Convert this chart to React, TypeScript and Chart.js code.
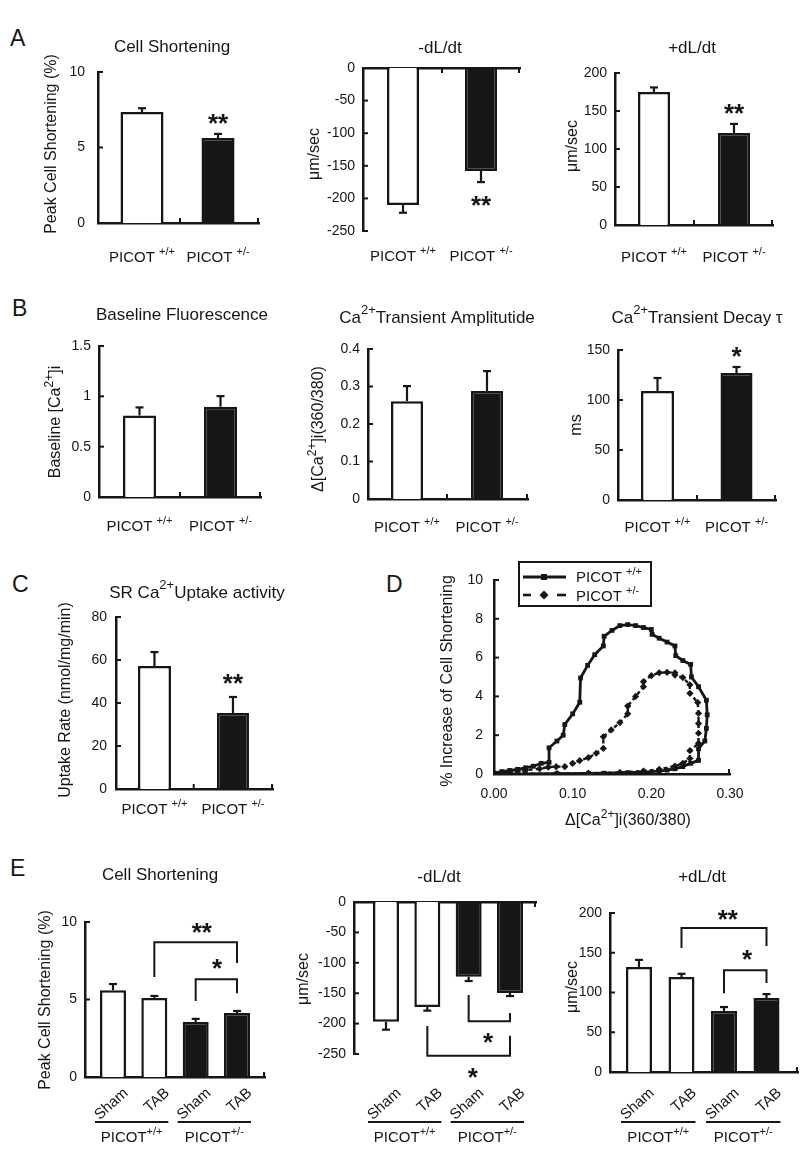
import React, { useEffect, useRef } from 'react';
import { Chart, registerables } from 'chart.js';

Chart.register(...registerables);

const FONT = '"Liberation Sans", Arial, Helvetica, sans-serif';
const INK = '#161616';
const WHITE = '#ffffff';
const DEG = Math.PI / 180;

Chart.defaults.font.family = FONT;
Chart.defaults.color = INK;

// ---------- Panel A ----------
const genotypeLabels = ['PICOT ^{+/+}', 'PICOT ^{+/-}'];
const aShortening = [7.35, 5.63];
const aShorteningErr = [0.25, 0.27];
const aRelaxation = [-210, -158];
const aRelaxationErr = [12, 17];
const aContraction = [175, 121];
const aContractionErr = [6, 12];

// ---------- Panel B ----------
const bBaseline = [0.81, 0.897];
const bBaselineErr = [0.08, 0.105];
const bAmplitude = [0.261, 0.288];
const bAmplitudeErr = [0.04, 0.053];
const bDecay = [109, 127];
const bDecayErr = [13, 6];

// ---------- Panel C ----------
const cUptake = [57.2, 35.3];
const cUptakeErr = [6.5, 7.5];

// ---------- Panel D ----------
const dWtX = [0.0, 0.01, 0.02, 0.03, 0.04, 0.05, 0.06, 0.07, 0.07, 0.08, 0.088, 0.09, 0.1, 0.109, 0.11, 0.119, 0.128, 0.139, 0.14, 0.15, 0.16, 0.17, 0.18, 0.19, 0.2, 0.201, 0.21, 0.22, 0.23, 0.231, 0.24, 0.25, 0.251, 0.26, 0.27, 0.271, 0.27, 0.268, 0.26, 0.26, 0.25, 0.24, 0.23, 0.22, 0.21, 0.19, 0.17, 0.14, 0.12, 0.08, 0.04, 0.0];
const dWtY = [0.05, 0.12, 0.18, 0.24, 0.32, 0.4, 0.55, 0.6, 1.35, 1.7, 2.0, 2.55, 3.1, 3.7, 4.95, 5.6, 6.15, 6.6, 7.1, 7.4, 7.65, 7.7, 7.65, 7.55, 7.45, 7.2, 7.0, 6.8, 6.6, 6.1, 5.85, 5.65, 5.0, 4.5, 3.8, 3.05, 2.35, 1.7, 1.3, 0.7, 0.55, 0.38, 0.27, 0.2, 0.15, 0.1, 0.07, 0.04, 0.03, 0.02, 0.01, 0.0];
const dHetX = [0.0, 0.01, 0.02, 0.03, 0.04, 0.058, 0.069, 0.079, 0.09, 0.1, 0.109, 0.12, 0.13, 0.139, 0.139, 0.149, 0.16, 0.17, 0.17, 0.18, 0.19, 0.19, 0.2, 0.21, 0.22, 0.23, 0.23, 0.24, 0.249, 0.249, 0.259, 0.26, 0.26, 0.26, 0.26, 0.249, 0.249, 0.24, 0.23, 0.21, 0.19, 0.16, 0.12, 0.08, 0.04, 0.0];
const dHetY = [0.0, 0.07, 0.12, 0.16, 0.2, 0.27, 0.35, 0.38, 0.38, 0.55, 0.69, 0.84, 1.07, 1.32, 1.92, 2.27, 2.65, 3.1, 3.5, 4.0, 4.5, 4.76, 5.07, 5.22, 5.24, 5.22, 5.1, 4.97, 4.6, 4.16, 3.68, 3.13, 2.6, 2.1, 1.58, 1.2, 0.8, 0.55, 0.41, 0.24, 0.15, 0.08, 0.04, 0.02, 0.01, 0.0];
const dSeriesLabels = ['PICOT ^{+/+}', 'PICOT ^{+/-}'];

// ---------- Panel E ----------
const eTreatments = ['Sham', 'TAB', 'Sham', 'TAB'];
const eGenotypes = ['PICOT^{+/+}', 'PICOT^{+/-}'];
const eShortening = [5.6, 5.1, 3.55, 4.13];
const eShorteningErr = [0.4, 0.13, 0.2, 0.13];
const eRelaxation = [-197, -172.7, -123, -149.7];
const eRelaxationErr = [13, 6, 7, 5];
const eContraction = [132, 119.5, 76.7, 93];
const eContractionErr = [9, 4, 5, 5];

type Star = { x: number; y: number; text: string };
type Bracket = { x1: number; x2: number; y1: number; top: number; y2: number };
type BarSpec = {
  area: [number, number, number, number];
  xRange: [number, number];
  yRange: [number, number, number];
  values: number[];
  errors: number[];
  fills: string[];
  widths: number[];
  labels?: string[];
  labelY?: number;
  rotLabels?: string[];
  rotY?: number;
  groups?: string[];
  title: string;
  titlePos: [number, number];
  yTitle: string;
  yTitlePos: [number, number];
  tickPad: number;
  xTop?: boolean;
  midTicks?: boolean;
  stars?: Star[];
  brackets?: Bracket[];
};

function segs(s: string) {
  const out: { t: string; sup: boolean }[] = [];
  const re = /\^\{([^}]*)\}/g;
  let last = 0;
  let m: RegExpExecArray | null;
  while ((m = re.exec(s))) {
    if (m.index > last) out.push({ t: s.slice(last, m.index), sup: false });
    out.push({ t: m[1], sup: true });
    last = m.index + m[0].length;
  }
  if (last < s.length) out.push({ t: s.slice(last), sup: false });
  return out;
}

function drawRich(ctx: CanvasRenderingContext2D, s: string, x: number, y: number, size: number, align = 'center', rot = 0) {
  const parts = segs(s);
  const supSize = Math.round(size * 0.75);
  ctx.save();
  ctx.translate(x, y);
  if (rot) ctx.rotate(rot);
  ctx.fillStyle = INK;
  ctx.textBaseline = 'middle';
  ctx.textAlign = 'left';
  let total = 0;
  const widths = parts.map((p) => {
    ctx.font = `${p.sup ? supSize : size}px ${FONT}`;
    const w = ctx.measureText(p.t).width;
    total += w;
    return w;
  });
  let cx = align === 'center' ? -total / 2 : align === 'right' ? -total : 0;
  parts.forEach((p, i) => {
    ctx.font = `${p.sup ? supSize : size}px ${FONT}`;
    ctx.fillText(p.t, cx, p.sup ? -size * 0.42 : 0);
    cx += widths[i];
  });
  ctx.restore();
}

function seg(ctx: CanvasRenderingContext2D, x1: number, y1: number, x2: number, y2: number) {
  ctx.beginPath();
  ctx.moveTo(x1, y1);
  ctx.lineTo(x2, y2);
  ctx.stroke();
}

function drawStar(ctx: CanvasRenderingContext2D, text: string, x: number, y: number) {
  const fs = 26;
  ctx.save();
  ctx.font = `bold ${fs}px ${FONT}`;
  ctx.fillStyle = INK;
  ctx.textAlign = 'center';
  ctx.textBaseline = 'alphabetic';
  ctx.fillText(text, x, y + fs * 0.58);
  ctx.restore();
}

const fmt = (v: number) => String(Math.round(v * 1000) / 1000);

function drawBarAnnotations(chart: any, s: BarSpec) {
  const ctx: CanvasRenderingContext2D = chart.ctx;
  const xs = chart.scales.x;
  const ys = chart.scales.y;
  const { left, right, top, bottom } = chart.chartArea;
  const px = (v: number) => xs.getPixelForValue(v);
  const py = (v: number) => ys.getPixelForValue(v);
  ctx.save();
  ctx.strokeStyle = INK;
  ctx.lineCap = 'butt';
  // error bars
  ctx.lineWidth = 2.2;
  s.values.forEach((v, i) => {
    const x = px(i);
    const y0 = py(v);
    const y1 = py(v + Math.sign(v) * s.errors[i]);
    seg(ctx, x, y0, x, y1);
    seg(ctx, x - 4, y1, x + 4, y1);
  });
  // inner y ticks
  ctx.lineWidth = 2;
  ys.ticks.forEach((tk: any) => {
    const y = py(tk.value);
    seg(ctx, left, y, left + 5, y);
  });
  // inner x ticks
  const axisY = s.xTop ? top : bottom;
  const dir = s.xTop ? 1 : -1;
  const tickXs: number[] = [right - 1];
  if (s.midTicks) for (let i = 0; i < s.values.length - 1; i++) tickXs.push(px(i + 0.5));
  tickXs.forEach((x) => seg(ctx, x, axisY, x, axisY + dir * 5));
  // brackets
  ctx.lineWidth = 2;
  (s.brackets || []).forEach((b) => {
    ctx.beginPath();
    ctx.moveTo(px(b.x1), py(b.y1));
    ctx.lineTo(px(b.x1), py(b.top));
    ctx.lineTo(px(b.x2), py(b.top));
    ctx.lineTo(px(b.x2), py(b.y2));
    ctx.stroke();
  });
  (s.stars || []).forEach((st) => drawStar(ctx, st.text, px(st.x), py(st.y)));
  // titles
  drawRich(ctx, s.title, s.titlePos[0], s.titlePos[1], 17);
  drawRich(ctx, s.yTitle, s.yTitlePos[0], s.yTitlePos[1], 16, 'center', -Math.PI / 2);
  // category labels
  if (s.labels && s.labelY) s.labels.forEach((lb, i) => drawRich(ctx, lb, px(i), s.labelY as number, 15));
  if (s.rotLabels && s.rotY) s.rotLabels.forEach((lb, i) => drawRich(ctx, lb, px(i) + 13, s.rotY as number, 15, 'right', -42 * DEG));
  if (s.groups) {
    ctx.lineWidth = 2;
    s.groups.forEach((g, k) => {
      const x0 = px(2 * k) - 18;
      const x1 = px(2 * k + 1) + 14;
      seg(ctx, x0, 1122, x1, 1122);
      drawRich(ctx, g, (x0 + x1) / 2, 1138, 15);
    });
  }
  ctx.restore();
}

function barConfig(s: BarSpec) {
  const [l, t, r, b] = s.area;
  const spacing = (r - l) / (s.xRange[1] - s.xRange[0]);
  return {
    type: 'bar',
    data: {
      datasets: s.values.map((v, i) => ({
        data: [{ x: i, y: v }],
        backgroundColor: s.fills[i],
        borderColor: INK,
        borderWidth: 2.5,
        grouped: false,
        categoryPercentage: 1,
        barPercentage: s.widths[i] / spacing,
      })),
    },
    options: {
      animation: false,
      responsive: false,
      devicePixelRatio: 1,
      events: [],
      layout: { padding: { left: 0, top: t, right: 800 - r, bottom: 1160 - b } },
      plugins: { legend: { display: false }, tooltip: { enabled: false }, title: { display: false } },
      scales: {
        x: {
          type: 'linear',
          position: s.xTop ? 'top' : 'bottom',
          offset: false,
          min: s.xRange[0],
          max: s.xRange[1],
          grid: { display: false, drawTicks: false, offset: false },
          ticks: { display: false },
          border: { display: true, color: INK, width: 2.5 },
          afterBuildTicks: (sc: any) => {
            sc.ticks = s.values.map((_, i) => ({ value: i }));
          },
          afterFit: (sc: any) => {
            sc.height = 0;
          },
        },
        y: {
          type: 'linear',
          min: s.yRange[0],
          max: s.yRange[1],
          grid: { display: false, drawTicks: false },
          border: { display: true, color: INK, width: 2.5 },
          ticks: {
            stepSize: s.yRange[2],
            padding: s.tickPad,
            color: INK,
            font: { size: 14, family: FONT },
            callback: (v: any) => fmt(Number(v)),
          },
          afterFit: (sc: any) => {
            sc.width = l;
          },
        },
      },
    },
    plugins: [{ id: 'annot', afterDraw: (chart: any) => drawBarAnnotations(chart, s) }],
  };
}

const twoFills = [WHITE, INK];
const fourFills = [WHITE, WHITE, INK, INK];

const barSpecs: BarSpec[] = [
  {
    area: [98, 72, 259, 223], xRange: [-0.579, 1.539], yRange: [0, 10, 5],
    values: aShortening, errors: aShorteningErr, fills: twoFills, widths: [43, 33],
    labels: genotypeLabels, labelY: 258, midTicks: true,
    title: 'Cell Shortening', titlePos: [172, 47],
    yTitle: 'Peak Cell Shortening (%)', yTitlePos: [52, 144], tickPad: 13,
    stars: [{ x: 1, y: 7.02, text: '**' }],
  },
  {
    area: [363, 68, 520, 231], xRange: [-0.513, 1.5], yRange: [-250, 0, 50],
    values: aRelaxation, errors: aRelaxationErr, fills: twoFills, widths: [32, 32],
    labels: genotypeLabels, labelY: 257, midTicks: true, xTop: true,
    title: '-dL/dt', titlePos: [440, 48],
    yTitle: 'μm/sec', yTitlePos: [315, 154], tickPad: 8,
    stars: [{ x: 1, y: -201, text: '**' }],
  },
  {
    area: [615, 73, 773, 225], xRange: [-0.4875, 1.4875], yRange: [0, 200, 50],
    values: aContraction, errors: aContractionErr, fills: twoFills, widths: [32, 32],
    labels: genotypeLabels, labelY: 258, midTicks: true,
    title: '+dL/dt', titlePos: [692, 48],
    yTitle: 'μm/sec', yTitlePos: [573, 146], tickPad: 8,
    stars: [{ x: 1, y: 155, text: '**' }],
  },
  {
    area: [99, 346, 261, 497], xRange: [-0.5, 1.5], yRange: [0, 1.5, 0.5],
    values: bBaseline, errors: bBaselineErr, fills: twoFills, widths: [33, 33],
    labels: genotypeLabels, labelY: 527, midTicks: true,
    title: 'Baseline Fluorescence', titlePos: [182, 315],
    yTitle: 'Baseline [Ca^{2+}]i', yTitlePos: [56, 422], tickPad: 8,
  },
  {
    area: [368, 349, 528, 499], xRange: [-0.4875, 1.5125], yRange: [0, 0.4, 0.1],
    values: bAmplitude, errors: bAmplitudeErr, fills: twoFills, widths: [32, 32],
    labels: genotypeLabels, labelY: 528, midTicks: true,
    title: 'Ca^{2+}Transient Amplitutide', titlePos: [437, 318],
    yTitle: 'Δ[Ca^{2+}]i(360/380)', yTitlePos: [319, 429], tickPad: 8,
  },
  {
    area: [618, 350, 776, 500], xRange: [-0.5, 1.5], yRange: [0, 150, 50],
    values: bDecay, errors: bDecayErr, fills: twoFills, widths: [33, 32],
    labels: genotypeLabels, labelY: 528, midTicks: true,
    title: 'Ca^{2+}Transient Decay τ', titlePos: [697, 318],
    yTitle: 'ms', yTitlePos: [577, 425], tickPad: 8,
    stars: [{ x: 1, y: 150, text: '*' }],
  },
  {
    area: [116, 617, 273, 789], xRange: [-0.49, 1.51], yRange: [0, 80, 20],
    values: cUptake, errors: cUptakeErr, fills: twoFills, widths: [33, 32],
    labels: genotypeLabels, labelY: 810, midTicks: true,
    title: 'SR Ca^{2+}Uptake activity', titlePos: [197, 593],
    yTitle: 'Uptake Rate (nmol/mg/min)', yTitlePos: [66, 700], tickPad: 9,
    stars: [{ x: 1, y: 52, text: '**' }],
  },
  {
    area: [85, 922, 265, 1077], xRange: [-0.677, 3.677], yRange: [0, 10, 5],
    values: eShortening, errors: eShorteningErr, fills: fourFills, widths: [26, 26, 26, 26],
    rotLabels: eTreatments, rotY: 1091, groups: eGenotypes,
    title: 'Cell Shortening', titlePos: [160, 875],
    yTitle: 'Peak Cell Shortening (%)', yTitlePos: [46, 1000], tickPad: 8,
    brackets: [
      { x1: 1, x2: 3, y1: 6.45, top: 8.7, y2: 7.35 },
      { x1: 2, x2: 3, y1: 4.9, top: 6.3, y2: 5.4 },
    ],
    stars: [
      { x: 2.15, y: 9.74, text: '**' },
      { x: 2.52, y: 7.4, text: '*' },
    ],
  },
  {
    area: [354, 902, 536, 1054], xRange: [-0.774, 3.629], yRange: [-250, 0, 50],
    values: eRelaxation, errors: eRelaxationErr, fills: fourFills, widths: [26, 26, 26, 26],
    rotLabels: eTreatments, rotY: 1091, groups: eGenotypes, xTop: true,
    title: '-dL/dt', titlePos: [439, 877],
    yTitle: 'μm/sec', yTitlePos: [304, 979], tickPad: 8,
    brackets: [
      { x1: 2, x2: 3, y1: -153, top: -196, y2: -182.6 },
      { x1: 1, x2: 3, y1: -204, top: -253, y2: -220 },
    ],
    stars: [
      { x: 2.47, y: -220, text: '*' },
      { x: 2.1, y: -278, text: '*' },
    ],
  },
  {
    area: [610, 913, 798, 1072], xRange: [-0.682, 3.741], yRange: [0, 200, 50],
    values: eContraction, errors: eContractionErr, fills: fourFills, widths: [26, 26, 26, 26],
    rotLabels: eTreatments, rotY: 1091, groups: eGenotypes,
    title: '+dL/dt', titlePos: [702, 877],
    yTitle: 'μm/sec', yTitlePos: [573, 987], tickPad: 8,
    brackets: [
      { x1: 1, x2: 3, y1: 156, top: 181, y2: 158.5 },
      { x1: 2, x2: 3, y1: 99, top: 128, y2: 112 },
    ],
    stars: [
      { x: 2.09, y: 200, text: '**' },
      { x: 2.54, y: 150, text: '*' },
    ],
  },
];

function drawLoopAnnotations(chart: any) {
  const ctx: CanvasRenderingContext2D = chart.ctx;
  const ys = chart.scales.y;
  const { left, right, bottom } = chart.chartArea;
  ctx.save();
  ctx.strokeStyle = INK;
  ctx.fillStyle = INK;
  ctx.lineWidth = 2;
  ys.ticks.forEach((tk: any) => {
    const y = ys.getPixelForValue(tk.value);
    seg(ctx, left, y, left + 5, y);
  });
  seg(ctx, right - 1, bottom, right - 1, bottom - 5);
  drawRich(ctx, '% Increase of Cell Shortening', 448, 681, 16, 'center', -Math.PI / 2);
  drawRich(ctx, 'Δ[Ca^{2+}]i(360/380)', 628, 821, 16);
  // legend
  ctx.lineWidth = 2;
  ctx.strokeRect(519, 562, 132, 44);
  ctx.lineWidth = 2.8;
  seg(ctx, 523, 577, 566, 577);
  ctx.fillRect(541, 574, 6, 6);
  ctx.lineWidth = 2.6;
  seg(ctx, 523, 595, 531, 595);
  seg(ctx, 557, 595, 566, 595);
  ctx.beginPath();
  ctx.moveTo(544, 590.5);
  ctx.lineTo(548.5, 595);
  ctx.lineTo(544, 599.5);
  ctx.lineTo(539.5, 595);
  ctx.closePath();
  ctx.fill();
  drawRich(ctx, dSeriesLabels[0], 576, 578, 15, 'left');
  drawRich(ctx, dSeriesLabels[1], 576, 597, 15, 'left');
  ctx.restore();
}

function loopConfig() {
  const l = 494, t = 580, r = 730, b = 774, xh = 40;
  return {
    type: 'scatter',
    data: {
      datasets: [
        {
          data: dWtX.map((x, i) => ({ x, y: dWtY[i] })),
          showLine: true,
          borderColor: INK,
          borderWidth: 2.8,
          pointStyle: 'rect',
          pointRadius: 3.4,
          pointBackgroundColor: INK,
          pointBorderColor: INK,
          pointBorderWidth: 0,
          tension: 0,
        },
        {
          data: dHetX.map((x, i) => ({ x, y: dHetY[i] })),
          showLine: true,
          borderColor: INK,
          borderWidth: 2.4,
          borderDash: [4, 3],
          pointStyle: 'rectRot',
          pointRadius: 3.6,
          pointBackgroundColor: INK,
          pointBorderColor: INK,
          pointBorderWidth: 0,
          tension: 0,
        },
      ],
    },
    options: {
      animation: false,
      responsive: false,
      devicePixelRatio: 1,
      events: [],
      layout: { padding: { left: 0, top: t, right: 800 - r, bottom: 1160 - b - xh } },
      plugins: { legend: { display: false }, tooltip: { enabled: false } },
      scales: {
        x: {
          type: 'linear',
          min: 0,
          max: 0.3,
          grid: { display: false, drawTicks: false },
          border: { display: true, color: INK, width: 2.5 },
          ticks: {
            stepSize: 0.1,
            padding: 12,
            color: INK,
            font: { size: 14, family: FONT },
            callback: (v: any) => Number(v).toFixed(2),
          },
          afterFit: (sc: any) => {
            sc.height = xh;
          },
        },
        y: {
          type: 'linear',
          min: 0,
          max: 10,
          grid: { display: false, drawTicks: false },
          border: { display: true, color: INK, width: 2.5 },
          ticks: {
            stepSize: 2,
            padding: 11,
            color: INK,
            font: { size: 14, family: FONT },
            callback: (v: any) => fmt(Number(v)),
          },
          afterFit: (sc: any) => {
            sc.width = l;
          },
        },
      },
    },
    plugins: [{ id: 'loopAnnot', afterDraw: (chart: any) => drawLoopAnnotations(chart) }],
  };
}

const panelLetters: { t: string; x: number; y: number }[] = [
  { t: 'A', x: 10, y: 27 },
  { t: 'B', x: 12, y: 297 },
  { t: 'C', x: 12, y: 573 },
  { t: 'D', x: 386, y: 573 },
  { t: 'E', x: 10, y: 857 },
];

export default function App() {
  const refs = useRef<(HTMLCanvasElement | null)[]>([]);
  const total = barSpecs.length + 1;
  useEffect(() => {
    const configs: any[] = [...barSpecs.map(barConfig), loopConfig()];
    const charts = configs.map((cfg, i) => new Chart(refs.current[i] as HTMLCanvasElement, cfg));
    return () => charts.forEach((c) => c.destroy());
  }, []);
  return (
    <div style={{ position: 'absolute', left: 0, top: 0, width: 800, height: 1160, background: '#fff', overflow: 'hidden' }}>
      {panelLetters.map((p) => (
        <div
          key={p.t}
          style={{ position: 'absolute', left: p.x, top: p.y, fontFamily: FONT, fontSize: 23, lineHeight: 1, color: INK }}
        >
          {p.t}
        </div>
      ))}
      {Array.from({ length: total }).map((_, i) => (
        <canvas
          key={i}
          ref={(el) => {
            refs.current[i] = el;
          }}
          width={800}
          height={1160}
          style={{ position: 'absolute', left: 0, top: 0, width: 800, height: 1160 }}
        />
      ))}
    </div>
  );
}
